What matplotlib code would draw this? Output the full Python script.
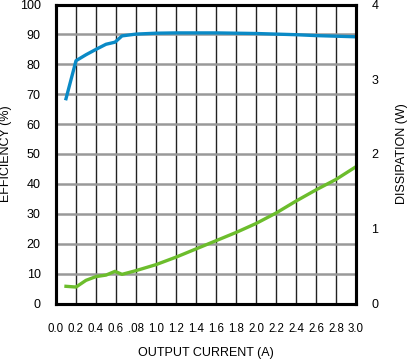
import matplotlib
matplotlib.use("Agg")
import matplotlib.pyplot as plt

plt.rcParams['font.family'] = ['Liberation Sans', 'DejaVu Sans']

current = [0.1, 0.2, 0.3, 0.4, 0.5, 0.59, 0.66, 0.8, 1.0, 1.2, 1.4, 1.6, 1.8, 2.0, 2.2, 2.4, 2.6, 2.8, 3.0]
efficiency = [68.5, 81.2, 83.2, 85.0, 86.7, 87.4, 89.5, 90.1, 90.4, 90.5, 90.5, 90.5, 90.4, 90.3, 90.1, 89.9, 89.6, 89.4, 89.2]
dissipation = [0.23, 0.22, 0.31, 0.36, 0.38, 0.43, 0.39, 0.44, 0.52, 0.62, 0.73, 0.84, 0.95, 1.07, 1.21, 1.37, 1.52, 1.66, 1.83]

xticks = [0.0, 0.2, 0.4, 0.6, 0.8, 1.0, 1.2, 1.4, 1.6, 1.8, 2.0, 2.2, 2.4, 2.6, 2.8, 3.0]
xticklabels = ["0.0", "0.2", "0.4", "0.6", ".08", "1.0", "1.2", "1.4", "1.6", "1.8", "2.0", "2.2", "2.4", "2.6", "2.8", "3.0"]
yticks_left = [0, 10, 20, 30, 40, 50, 60, 70, 80, 90, 100]
yticks_right = [0, 1, 2, 3, 4]

fig = plt.figure(figsize=(4.09, 3.62), dpi=100)
ax = fig.add_axes([56/409, 1-303.5/362, 300/409, 299/362])
ax2 = ax.twinx()

ax.set_xlim(0, 3.0)
ax.set_ylim(0, 100)
ax2.set_ylim(0, 4)

for x in xticks:
    ax.axvline(x, color='#222222', lw=1.0, zorder=1)
for y in yticks_left:
    ax.axhline(y, color='#999999', lw=1.8, zorder=1)

ax.plot(current, efficiency, color='#0a8ac6', lw=2.4, zorder=3, solid_joinstyle='round')
ax2.plot(current, dissipation, color='#6cbd2c', lw=2.4, zorder=3, solid_joinstyle='round')

ax.set_xticks(xticks)
ax.set_xticklabels(xticklabels, fontsize=8.3)
ax.set_yticks(yticks_left)
ax.set_yticklabels([str(v) for v in yticks_left], fontsize=9)
ax2.set_yticks(yticks_right)
ax2.set_yticklabels([str(v) for v in yticks_right], fontsize=9)

ax.tick_params(axis='x', length=0, pad=14)
ax.tick_params(axis='y', length=0, pad=11)
ax2.tick_params(axis='y', length=0, pad=11)

for a in (ax, ax2):
    for s in a.spines.values():
        s.set_linewidth(2.2)
        s.set_color('black')
        s.set_zorder(5)

ax.set_xlabel("OUTPUT CURRENT (A)", fontsize=9)
ax.set_ylabel("EFFICIENCY (%)", fontsize=9)
ax2.set_ylabel("DISSIPATION (W)", fontsize=9)
ax.xaxis.set_label_coords(0.5, -0.145)
ax.yaxis.set_label_coords(-0.148, 0.5)
ax2.yaxis.set_label_coords(1.132, 0.5)

fig.savefig("out.png", dpi=100)
